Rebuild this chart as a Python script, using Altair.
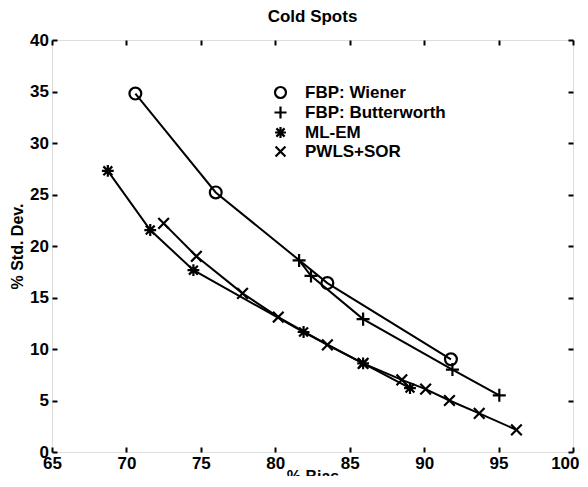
import altair as alt
import pandas as pd

series_names = ["FBP: Wiener", "FBP: Butterworth", "ML-EM", "PWLS+SOR"]

wiener_x = [70.6, 76.0, 83.5, 91.8]
wiener_y = [34.8, 25.2, 16.4, 9.0]

butter_x = [81.6, 82.4, 85.9, 91.9, 95.05]
butter_y = [18.6, 17.1, 12.9, 8.0, 5.5]

mlem_x = [68.75, 71.6, 74.5, 81.9, 85.9, 89.05]
mlem_y = [27.3, 21.55, 17.65, 11.65, 8.6, 6.2]

pwls_x = [72.5, 74.7, 77.8, 80.2, 83.5, 85.9, 88.5, 90.1, 91.7, 93.7, 96.2]
pwls_y = [22.2, 19.0, 15.4, 13.1, 10.4, 8.6, 7.0, 6.1, 5.0, 3.75, 2.15]

x_ticks = [65, 70, 75, 80, 85, 90, 95, 100]
y_ticks = [0, 5, 10, 15, 20, 25, 30, 35, 40]

rows = []
for name, xs, ys in zip(series_names,
                        [wiener_x, butter_x, mlem_x, pwls_x],
                        [wiener_y, butter_y, mlem_y, pwls_y]):
    for i, (xv, yv) in enumerate(zip(xs, ys)):
        rows.append({"series": name, "bias": xv, "std": yv, "idx": i})
df = pd.DataFrame(rows)

shape_paths = [
    "circle",
    "M-1.1,0L1.1,0M0,-1.1L0,1.1",
    "M-1,0L1,0M0,-1L0,1M-0.75,-0.75L0.75,0.75M-0.75,0.75L0.75,-0.75",
    "M-0.9,-0.9L0.9,0.9M-0.9,0.9L0.9,-0.9",
]

FONT = "Liberation Sans"
xscale = alt.Scale(domain=[65, 100], nice=False, zero=False)
yscale = alt.Scale(domain=[0, 40], nice=False, zero=False)

base = alt.Chart(df)

main_x_axis = alt.Axis(title="% Bias", values=x_ticks, ticks=False, grid=False,
                       domain=False, labelPadding=3, labelFont=FONT, labelFontSize=17,
                       labelFontWeight="bold", labelColor="black", titleFont=FONT,
                       titleFontSize=16, titleFontWeight="bold", titleColor="black",
                       titlePadding=-3, labelFlush=False, labelOverlap=False,
                       labelAlign={"condition": {"test": "datum.value == 100", "value": "right"},
                                   "value": "center"},
                       labelOffset={"condition": {"test": "datum.value == 100", "value": 6},
                                    "value": 0})
main_y_axis = alt.Axis(title="% Std. Dev.", values=y_ticks, ticks=False, grid=False,
                       domain=False, labelPadding=3.5, labelFont=FONT, labelFontSize=17,
                       labelFontWeight="bold", labelColor="black", titleFont=FONT,
                       titleFontSize=16, titleFontWeight="bold", titleColor="black",
                       titlePadding=4, labelFlush=False, labelOverlap=False)

lines = base.mark_line(color="black", strokeWidth=2).encode(
    x=alt.X("bias:Q", scale=xscale, axis=main_x_axis),
    y=alt.Y("std:Q", scale=yscale, axis=main_y_axis),
    detail="series:N",
    order="idx:Q",
)

def tick_axis(orient, values):
    return alt.Axis(orient=orient, offset=-5, values=values, labels=False, domain=False,
                    grid=False, title=None, ticks=True, tickSize=5, tickWidth=2,
                    tickColor="black")

points = base.mark_point(filled=False, color="black", strokeWidth=2.2, size=140, opacity=1).encode(
    x=alt.X("bias:Q", scale=xscale, axis=tick_axis("bottom", x_ticks)),
    y=alt.Y("std:Q", scale=yscale, axis=tick_axis("left", y_ticks)),
    shape=alt.Shape("series:N",
                    scale=alt.Scale(domain=series_names, range=shape_paths),
                    legend=alt.Legend(title=None, orient="none", legendX=220, legendY=44,
                                      padding=0, rowPadding=-1, labelFont=FONT,
                                      labelFontSize=17, labelFontWeight="bold",
                                      labelColor="black", labelOffset=16,
                                      symbolSize=120, symbolStrokeWidth=2.2,
                                      symbolStrokeColor="black",
                                      symbolFillColor="transparent")),
)

ghost = base.mark_point(opacity=0).encode(
    x=alt.X("bias:Q", scale=xscale, axis=tick_axis("top", x_ticks)),
    y=alt.Y("std:Q", scale=yscale, axis=tick_axis("right", y_ticks)),
)

chart = alt.layer(lines, points, ghost).resolve_axis(
    x="independent", y="independent"
).properties(
    width=521, height=412,
    title=alt.Title("Cold Spots", font=FONT, fontSize=17, fontWeight="bold",
                    color="black", offset=5),
    padding={"left": 1, "top": 0, "right": 0, "bottom": -8},
).configure_view(
    stroke="black", strokeWidth=2
).configure(background="white")

chart.save("out.html", embed_options={"renderer": "svg", "actions": False})
